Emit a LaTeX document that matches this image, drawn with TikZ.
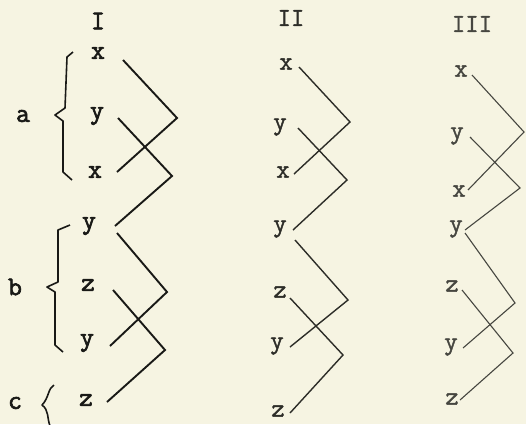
\documentclass[tikz,border=0pt]{standalone}
\usepackage{fontspec}
\newfontfamily\typefont[FakeBold=2.4]{Latin Modern Mono}
\newfontfamily\typefontlight[FakeBold=1.4]{Latin Modern Mono}
\definecolor{paper}{RGB}{246,244,226}
\definecolor{inkA}{RGB}{25,25,22}
\definecolor{inkB}{RGB}{45,45,40}
\definecolor{inkC}{RGB}{70,70,64}
\begin{document}
\begin{tikzpicture}[x=1pt,y=-1pt,
  lblA/.style={inner sep=0pt,font=\typefont\fontsize{27}{27}\selectfont,text=inkA},
  lblB/.style={inner sep=0pt,font=\typefontlight\fontsize{26}{26}\selectfont,text=inkB},
  lblC/.style={inner sep=0pt,font=\typefontlight\fontsize{26}{26}\selectfont,text=inkC},
  zigA/.style={draw=inkA,line width=1.9pt},
  zigB/.style={draw=inkB,line width=1.4pt},
  zigC/.style={draw=inkC,line width=1.1pt},
  brc/.style={draw=inkA,line width=1.6pt,line join=round}]
\fill[paper] (0,0) rectangle (526,424);
\useasboundingbox (0,0) rectangle (526,424);
% ---------- column I ----------
\node[lblA] (tI) at (98,21) {I};
\node[lblA] (Ix1) at (98,53) {x};
\node[lblA] (Iy2) at (97,116) {y};
\node[lblA] (Ix3) at (95,172) {x};
\node[lblA] (Iy4) at (89,226) {y};
\node[lblA] (Iz5) at (88,285) {z};
\node[lblA] (Iy6) at (87,343) {y};
\node[lblA] (Iz7) at (86,400) {z};
\node[lblA] (la) at (23,116) {a};
\node[lblA] (lb) at (15,287) {b};
\node[lblA] (lc) at (15,403) {c};
\coordinate (Ia1) at (123,60);  \coordinate (Iv1) at (177,118); \coordinate (Ia2) at (117,172);
\coordinate (Ib1) at (118,118); \coordinate (Iv2) at (172,176); \coordinate (Ib2) at (115,226);
\coordinate (Ic1) at (117,233); \coordinate (Iv3) at (167,292); \coordinate (Ic2) at (110,346);
\coordinate (Id1) at (113,290); \coordinate (Iv4) at (165,350); \coordinate (Id2) at (107,402);
\draw[zigA] (Ia1) -- (Iv1) -- (Ia2);
\draw[zigA] (Ib1) -- (Iv2) -- (Ib2);
\draw[zigA] (Ic1) -- (Iv3) -- (Ic2);
\draw[zigA] (Id1) -- (Iv4) -- (Id2);
% braces
\draw[brc] (73,52) -- (67,57) -- (65,108) -- (55,115) -- (63,121) -- (63,172) -- (72,180);
\draw[brc] (70,225) -- (58,230) -- (58,282) -- (47,287) -- (55,292) -- (55,345) -- (63,352);
\draw[brc] (54,385) .. controls (48,388) and (49,398) .. (42,405) .. controls (49,410) and (47,418) .. (50,426);
% ---------- column II ----------
\node[lblB] (tII) at (291,18) {II};
\node[lblB] (IIx1) at (286,64) {x};
\node[lblB] (IIy2) at (280,127) {y};
\node[lblB] (IIx3) at (283,172) {x};
\node[lblB] (IIy4) at (280,229) {y};
\node[lblB] (IIz5) at (280,292) {z};
\node[lblB] (IIy6) at (277,346) {y};
\node[lblB] (IIz7) at (278,411) {z};
\coordinate (IIa1) at (299,67);  \coordinate (IIv1) at (350,122); \coordinate (IIa2) at (294,174);
\coordinate (IIb1) at (298,128); \coordinate (IIv2) at (347,180); \coordinate (IIb2) at (293,230);
\coordinate (IIc1) at (295,240); \coordinate (IIv3) at (348,300); \coordinate (IIc2) at (290,347);
\coordinate (IId1) at (290,298); \coordinate (IIv4) at (343,355); \coordinate (IId2) at (290,413);
\draw[zigB] (IIa1) -- (IIv1) -- (IIa2);
\draw[zigB] (IIb1) -- (IIv2) -- (IIb2);
\draw[zigB] (IIc1) -- (IIv3) -- (IIc2);
\draw[zigB] (IId1) -- (IIv4) -- (IId2);
% ---------- column III ----------
\node[lblC] (tIII) at (472,24) {III};
\node[lblC] (IIIx1) at (461,71) {x};
\node[lblC] (IIIy2) at (457,136) {y};
\node[lblC] (IIIx3) at (459,191) {x};
\node[lblC] (IIIy4) at (456,229) {y};
\node[lblC] (IIIz5) at (452,286) {z};
\node[lblC] (IIIy6) at (451,347) {y};
\node[lblC] (IIIz7) at (452,399) {z};
\coordinate (IIIa1) at (472,75);  \coordinate (IIIv1) at (524,132); \coordinate (IIIa2) at (468,190);
\coordinate (IIIb1) at (470,137); \coordinate (IIIv2) at (520,188); \coordinate (IIIb2) at (465,230);
\coordinate (IIIc1) at (465,233); \coordinate (IIIv3) at (515,303); \coordinate (IIIc2) at (463,348);
\coordinate (IIId1) at (462,290); \coordinate (IIIv4) at (513,353); \coordinate (IIId2) at (460,400);
\draw[zigC] (IIIa1) -- (IIIv1) -- (IIIa2);
\draw[zigC] (IIIb1) -- (IIIv2) -- (IIIb2);
\draw[zigC] (IIIc1) -- (IIIv3) -- (IIIc2);
\draw[zigC] (IIId1) -- (IIIv4) -- (IIId2);
\end{tikzpicture}
\end{document}
